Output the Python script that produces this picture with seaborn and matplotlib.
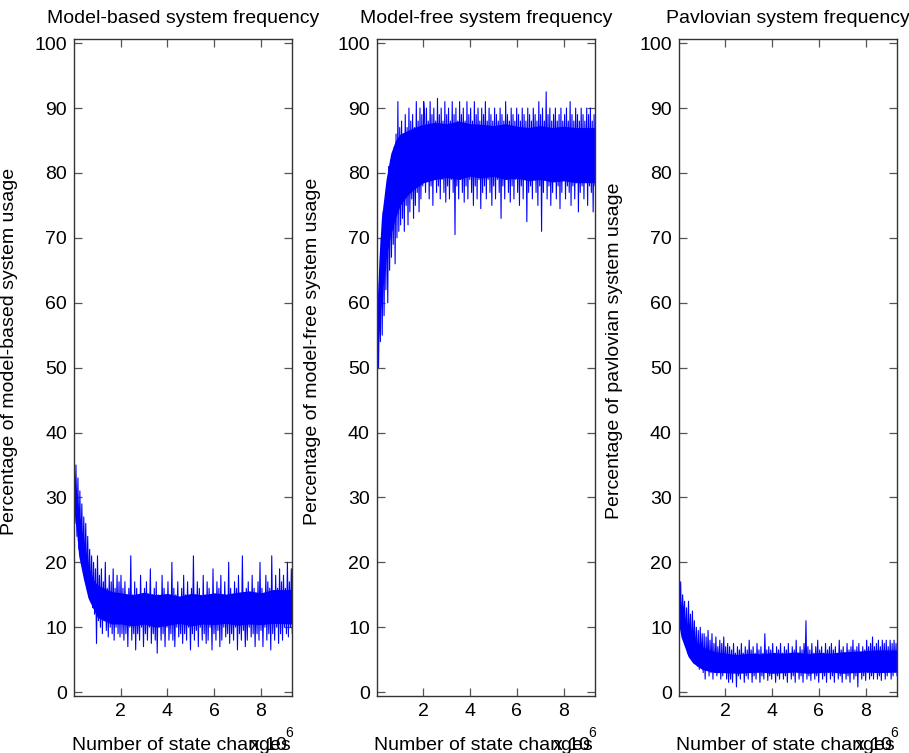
import numpy as np
import pandas as pd
import matplotlib
matplotlib.use("Agg")
import matplotlib.pyplot as plt
import seaborn as sns

# ---------------- data ----------------
titles = ["Model-based system frequency", "Model-free system frequency", "Pavlovian system frequency"]
ylabels = ["Percentage of model-based system usage",
           "Percentage of model-free system usage",
           "Percentage of pavlovian system usage"]
xlabel = "Number of state changes"
x_max = 9.34  # in units of 10^6 state changes
xticks = [2, 4, 6, 8]
yticks = [0, 10, 20, 30, 40, 50, 60, 70, 80, 90, 100]

# raw traces (alternating peaks / troughs)
model_based = [
    37, 26, 35, 24, 33, 22, 31, 21, 29, 19, 27, 18, 26, 16, 24, 15, 22, 14, 21, 13, 20, 12, 19, 7.5, 21, 11,
    18, 10, 19, 9, 17, 11, 20, 9.5, 16, 8.5, 18, 10, 17, 9, 19, 8, 16, 10, 18, 9, 17, 8.5, 18, 9, 16, 8,
    17, 9, 15, 7, 16, 10, 21, 8, 15, 9, 17, 6.5, 16, 9, 14, 8, 18, 10, 15, 7, 16, 9, 17, 8, 14, 10, 19, 7.5,
    15, 9, 16, 8, 17, 6, 15, 10, 14, 8, 18, 9, 16, 7, 15, 10, 17, 8, 14, 9, 20, 8, 16, 7, 15, 10, 17, 8.5,
    14, 9, 16, 7.5, 18, 9, 15, 8, 17, 10, 14, 6.5, 16, 9, 21, 8, 15, 9.5, 17, 7, 16, 10, 14, 8, 18, 9, 15,
    7.5, 17, 8, 16, 10, 14, 6.5, 19, 9, 15, 8, 17, 9.5, 16, 7, 18, 8, 15, 10, 17, 8.5, 14, 9, 20, 7.5, 16,
    9, 15, 8, 17, 10, 16, 6.5, 18, 9, 15, 8, 21, 9.5, 14, 7, 16, 8, 17, 10, 15, 8.5, 18, 9, 16, 7, 15, 9,
    17, 8, 20, 9.5, 16, 7, 15, 10, 18, 8, 17, 9, 16, 6.5, 21, 9, 15, 8, 18, 10, 16, 7.5, 19, 9, 17, 8, 18,
    10, 16, 9, 20, 8.5, 17, 10, 19, 9,
]

model_free = [
    45, 63, 50, 62, 54, 70, 55, 74, 58, 73, 62, 78, 60, 81, 65, 82, 67, 80, 69, 84, 66, 86, 70, 91, 71, 87,
    72, 88, 73, 86, 71, 89, 75, 87, 72, 90, 74, 88, 76, 89, 73, 87, 75, 91, 77, 88, 74, 90, 76, 89, 78, 91,
    89, 77, 90, 79, 88, 76, 91, 78, 89, 75, 90, 79, 88, 77, 91.5, 78, 89, 76, 90, 79, 88, 77, 91, 75.5, 89,
    78, 90, 76, 88, 79, 91, 77, 89, 70.5, 90, 78, 88, 76, 91, 79, 89, 77, 90, 75.5, 88, 78, 91, 76, 89, 79,
    90, 77, 88, 75, 91, 78, 89, 76, 90, 79, 88, 74.5, 90, 77, 89, 78, 91, 76, 88, 79, 90, 77, 89, 75, 88,
    78, 90, 76, 89, 79, 88, 77, 90, 73, 89, 78, 88, 76, 91, 79, 89, 77, 88, 75.5, 90, 78, 89, 76, 88, 79,
    90, 77, 89, 75, 88, 78, 90, 76, 89, 79, 88, 72.5, 90, 77, 89, 78, 88, 76, 90, 79, 89, 77, 88, 75, 91,
    78, 89, 71, 90, 77, 88, 79, 92.5, 76, 89, 78, 90, 75, 88, 77, 89, 79, 90, 76, 88, 78, 89, 74.5, 90, 77,
    88, 79, 89, 76, 90, 78, 88, 77, 91, 75, 89, 78, 88, 76, 90, 79, 89, 74, 88, 77, 90, 78, 89, 76, 88, 79,
    90, 75, 89, 78, 90, 77, 88, 74, 89, 78,
]

pavlovian = [
    18, 10, 17, 9, 15, 11, 14, 8, 13, 6, 14, 7, 12, 5.5, 12.5, 6, 11, 5, 10, 4, 9.5, 3.5, 10, 4.5, 9, 3,
    9, 2, 8.5, 3.5, 9.5, 2.5, 8, 3, 9, 2, 7.5, 3, 8.5, 2.5, 7, 3.5, 8, 2, 7.5, 2.5, 8.5, 3, 7, 2, 7.5, 1.5,
    7, 2, 6.5, 1.5, 7.5, 3, 6, 0.8, 7, 2.5, 6.5, 2, 7.5, 3, 6, 1.5, 7, 2.5, 6.5, 2, 8, 3, 6.5, 1.5, 7, 2.5,
    6, 2, 7.5, 3, 6.5, 1.5, 7, 2.5, 6, 2, 9, 3, 6.5, 1.8, 7, 2.5, 6.5, 2, 7.5, 3, 6, 1.5, 7, 2.5, 6.5, 2,
    7.5, 3, 6, 2, 7, 2.5, 6.5, 1.5, 7.5, 3, 6, 2, 7, 2.5, 6.5, 1.5, 8, 3, 6, 2, 7, 2.5, 6.5, 1.5, 7.5, 3,
    11, 2, 7, 2.5, 6.5, 1.8, 7.5, 3, 6, 2, 7, 2.5, 8, 1.5, 6.5, 3, 7, 2, 6, 2.5, 7.5, 1.5, 6.5, 3, 7, 2,
    7.5, 2.5, 6.5, 1.5, 7, 3, 6, 2, 8, 2.5, 6.5, 1.5, 7, 3, 6, 2, 7.5, 2.5, 6.5, 1.5, 7, 3, 8, 2, 6.5, 2.5,
    7, 0.8, 7.5, 3, 6, 2, 7, 2.5, 6.5, 1.8, 8, 3, 7, 2, 7.5, 2.5, 8.5, 2, 7, 3, 7.5, 2, 8, 2.5, 7, 1.8, 8,
    3, 7.5, 2, 8, 2.5, 7, 3, 8, 2, 7.5, 2.5, 8, 3, 7.5, 2.5,
]

# dense core of each trace (lower / upper edge of the solid band)
core_x = [0, 0.1, 0.2, 0.4, 0.6, 0.8, 1.0, 1.3, 1.6, 2.0, 2.5, 3, 3.5, 4, 4.5, 5, 5.5, 6, 6.5, 7, 7.5, 8, 8.5, 9.34]
mb_low = [28, 25, 21, 17.5, 14.5, 13, 11.5, 11, 10.5, 10.5, 10.2, 10.5, 10, 10.3, 10.6, 10.2, 10.5, 10.4, 10.6, 10.3, 10.5, 10.4, 10.6, 10.5]
mb_high = [35, 31, 28, 23, 19.5, 17.5, 16.5, 16, 15.5, 15.3, 15, 15.4, 15, 15.2, 14.8, 15.2, 15, 15.3, 15.1, 15.4, 15.6, 15.3, 15.8, 15.8]
mf_low = [50, 56, 61, 67, 70.5, 73, 75, 76.5, 77.5, 78.5, 79, 79.3, 79, 79.5, 79.2, 79.5, 79, 79.2, 78.8, 79, 78.6, 78.8, 78.5, 78.5]
mf_high = [58, 67, 73, 79, 83, 85, 86, 86.5, 87, 87.5, 87.8, 87.6, 88, 87.6, 87.5, 87.3, 87.6, 87.2, 87, 87.3, 87, 87.2, 87, 87]
pv_low = [10.5, 8.5, 7.5, 5.5, 4.5, 4, 3.5, 3.2, 3, 3, 2.9, 3, 3.1, 2.9, 3, 3.1, 2.9, 3, 3.1, 2.9, 3, 3.1, 3, 3.1]
pv_high = [16.5, 13.5, 12, 10, 8.5, 7.5, 7, 6.5, 6.2, 6, 5.8, 6, 5.9, 6.1, 6, 6.2, 5.9, 6.1, 6, 6.2, 6.3, 6.4, 6.5, 6.5]

series = [model_based, model_free, pavlovian]
cores = [(mb_low, mb_high), (mf_low, mf_high), (pv_low, pv_high)]

# ---------------- style ----------------
sns.set_style("white")
plt.rcParams["font.family"] = ["Liberation Sans", "DejaVu Sans"]
plt.rcParams["text.color"] = "black"
plt.rcParams["axes.labelcolor"] = "black"
plt.rcParams["xtick.labelcolor"] = "black"
plt.rcParams["ytick.labelcolor"] = "black"
FS = 14
BLUE = (0, 0, 1)

fig = plt.figure(figsize=(9.09, 7.53), dpi=100)
W, H = 909, 753
lefts = [74, 376.7, 678.7]
ax_w = 218.3
top_px, bot_px = 39.3, 696
ax_h = bot_px - top_px

for i in range(3):
    ax = fig.add_axes([lefts[i] / W, 1 - bot_px / H, ax_w / W, ax_h / H])
    lo, hi = cores[i]
    ax.fill_between(core_x, lo, hi, color=BLUE, linewidth=0)
    y = series[i]
    df = pd.DataFrame({"x": np.linspace(0, x_max, len(y)), "y": y})
    sns.lineplot(data=df, x="x", y="y", ax=ax, color=BLUE, linewidth=0.8,
                 estimator=None, sort=False)
    ax.set_xlim(0, x_max)
    ax.set_ylim(-0.6, 100.6)
    ax.set_xticks(xticks)
    ax.set_yticks(yticks)
    ax.set_xticklabels([str(t) for t in xticks], fontsize=FS)
    ax.set_yticklabels([str(t) for t in yticks], fontsize=FS)
    ax.tick_params(direction="in", length=6, width=0.9, color="#555555",
                   top=True, right=True, bottom=True, left=True, pad=5)
    for s in ax.spines.values():
        s.set_visible(True)
        s.set_color("#333333")
        s.set_linewidth(1.0)
    ax.set_title(titles[i], fontsize=FS, pad=12, color="black")
    ax.set_ylabel(ylabels[i], fontsize=FS)
    ax.yaxis.set_label_coords(-56 / ax_w, 0.525)
    ax.set_xlabel(xlabel, fontsize=FS)
    ax.xaxis.set_label_coords(0.49, -40.5 / ax_h)
    ax.text(0.977, -49 / ax_h, "x 10", transform=ax.transAxes,
            ha="right", va="center", fontsize=FS)
    ax.text(0.968, -37 / ax_h, "6", transform=ax.transAxes,
            ha="left", va="center", fontsize=10)

fig.savefig("out.png", dpi=100)
